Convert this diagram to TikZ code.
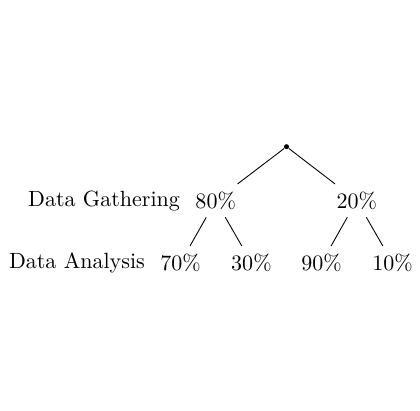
\documentclass[tikz,border=0pt]{standalone}
\usetikzlibrary{positioning}

\begin{document}
\begin{tikzpicture}[
        on grid, every node/.style={inner sep=3.33pt},
        dot/.style={circle, fill, inner sep=0pt, minimum size=2.3pt},
        ]
        \node[dot]                           (root)                                   {};
        \node                                (n80)  [below left=0.86cm and 1.13cm of root]  {80\%};
        \node                                (n20)  [below right=0.86cm and 1.12cm of root] {20\%};
        \node                                (n70)  [below left=0.99cm and 0.56cm of n80]   {70\%};
        \node                                (n30)  [below right=0.99cm and 0.57cm of n80]  {30\%};
        \node                                (n90)  [below left=0.99cm and 0.56cm of n20]   {90\%};
        \node                                (n10)  [below right=0.99cm and 0.57cm of n20]  {10\%};

        \node[anchor=east] (gather)   at (n80.west) {Data Gathering};
        \node[anchor=east] (analysis) at (n70.west) {Data Analysis};

        \draw (root) -- (n80);
        \draw (root) -- (n20);
        \draw (n80) -- (n70);
        \draw (n80) -- (n30);
        \draw (n20) -- (n90);
        \draw (n20) -- (n10);

        \useasboundingbox ([xshift=-0.02cm]analysis.west |- 0,2.34) rectangle ([xshift=-0.07cm]n10.east |- 0,-4.21);
      \end{tikzpicture}
\end{document}
